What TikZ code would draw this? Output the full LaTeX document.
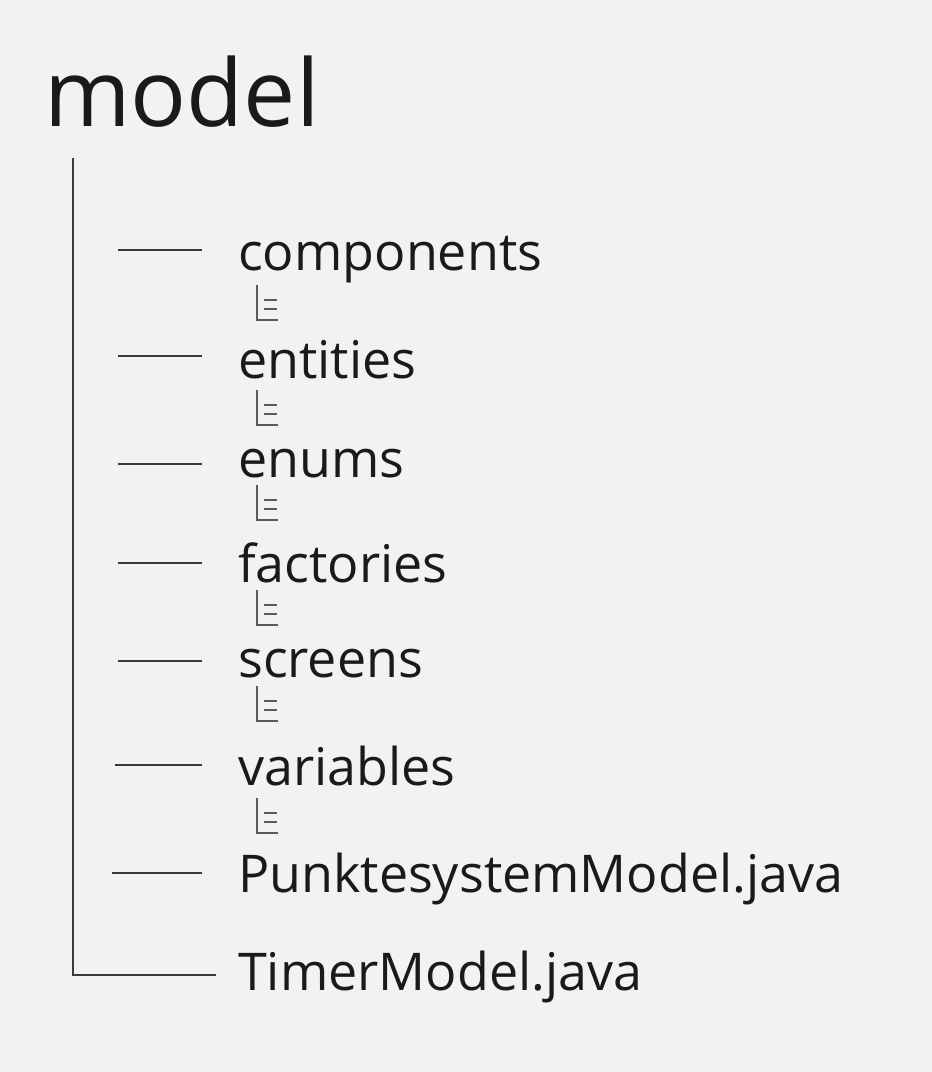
\documentclass[tikz,border=0pt]{standalone}
\usepackage{fontspec}
\setmainfont{Open Sans}
\usepackage{xcolor}
\usepackage{tikz}

\definecolor{paper}{HTML}{F2F2F2}
\definecolor{ink}{HTML}{1A1A1A}
\definecolor{wire}{HTML}{3A3A3A}
\definecolor{glyphgray}{HTML}{5A5A5A}

\begin{document}
\begin{tikzpicture}[x=1pt,y=-1pt,
	entry/.style={anchor=base west,inner sep=0pt,text=ink,font=\fontsize{52}{60}\selectfont},
	branch/.style={draw=wire,line width=1.3pt},
	glyph/.style={draw=glyphgray,line width=1.1pt}]
\fill[paper] (0,0) rectangle (932,1072);
\useasboundingbox (0,0) rectangle (932,1072);

\node[entry,font=\fontsize{93}{100}\selectfont] (model) at (44,126) {model};

% folders with their stub and the small contents mark
\foreach \name/\base/\stub/\left/\mark [count=\i] in {components/270/250/118/285,entities/378/356/118/390,enums/477/464/118/485,factories/582/563/118/590,screens/677/661/118/686,variables/785/765/115/798}{
	\node[entry] (dir\i) at (238,\base) {\name};
	\draw[branch] (\left,\stub) coordinate (stub\i) -- (202,\stub);
	\draw[glyph] (257,\mark)--(257,\mark+35)--(278,\mark+35);
	\draw[glyph] (264,\mark+15)--(277,\mark+15);
	\draw[glyph] (264,\mark+24)--(277,\mark+24);
}

% files
\node[entry] (punkte) at (238,892) {PunktesystemModel.java};
\draw[branch] (112,873) coordinate (stubP) -- (202,873);

\node[entry] (timer) at (238,990) {TimerModel.java};
\coordinate (trunk) at (73,158);
\coordinate (lastend) at (216,975);
\draw[branch] (trunk) |- (lastend);

\end{tikzpicture}
\end{document}
